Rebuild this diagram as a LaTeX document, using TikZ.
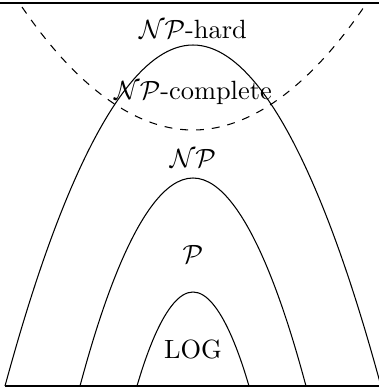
\documentclass[tikz,border=0pt]{standalone}
\begin{document}
\begin{tikzpicture}[x=0.3788pt,y=0.3788pt,
  curve/.style={line width=0.4pt},
  dashcurve/.style={dashed,line width=0.4pt},
  rule/.style={line width=0.8pt},
  lbl/.style={inner sep=0pt}]
\useasboundingbox (0,0) rectangle (379,388);
% horizontal rules
\coordinate (tl) at (0,385);
\coordinate (tr) at (379,385);
\coordinate (bl) at (5,2);
\coordinate (br) at (381,2);
\draw[rule] (tl) -- (tr);
\draw[rule] (bl) -- (br);
% outer (NP-hard region boundary of NP)
\coordinate (o1) at (5,2);
\coordinate (oa) at (193,343);
\coordinate (o2) at (381,2);
\draw[curve] (o1) parabola bend (oa) (o2);
% NP
\coordinate (n1) at (80,2);
\coordinate (na) at (193,210);
\coordinate (n2) at (306,2);
\draw[curve] (n1) parabola bend (na) (n2);
% LOG
\coordinate (l1) at (137,2);
\coordinate (la) at (193,96);
\coordinate (l2) at (249,2);
\draw[curve] (l1) parabola bend (la) (l2);
% dashed NP-hard
\coordinate (d1) at (22,381);
\coordinate (da) at (193,258);
\coordinate (d2) at (364,381);
\draw[dashcurve] (d1) parabola bend (da) (d2);
% labels
\node[lbl] (hard) at (193,359) {$\mathcal{NP}$-hard};
\node[lbl] (comp) at (193,295) {$\mathcal{NP}$-complete};
\node[lbl] (np) at (193,230) {$\mathcal{NP}$};
\node[lbl] (p) at (193,134) {$\mathcal{P}$};
\node[lbl] (log) at (193,39) {LOG};
\end{tikzpicture}
\end{document}
